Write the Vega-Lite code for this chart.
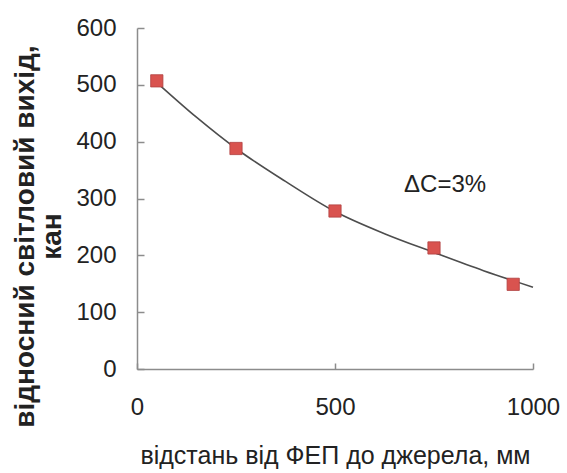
{
  "$schema": "https://vega.github.io/schema/vega-lite/v6.json",
  "autosize": "none",
  "width": 396,
  "height": 341,
  "padding": {"left": 137, "top": 28, "right": 34, "bottom": 104},
  "background": "white",
  "config": {
    "view": {"stroke": null},
    "font": "Liberation Sans"
  },
  "datasets": {
    "points": [
      {"distance": 50, "output": 507},
      {"distance": 250, "output": 388},
      {"distance": 500, "output": 278},
      {"distance": 750, "output": 213},
      {"distance": 950, "output": 149}
    ],
    "fit": [
      {"distance": 50, "output": 504},
      {"distance": 150, "output": 443},
      {"distance": 250, "output": 388},
      {"distance": 375, "output": 330},
      {"distance": 500, "output": 277},
      {"distance": 625, "output": 238},
      {"distance": 750, "output": 205},
      {"distance": 875, "output": 173},
      {"distance": 1000, "output": 144}
    ],
    "note": [
      {"distance": 778, "output": 324, "label": "ΔC=3%"}
    ]
  },
  "layer": [
    {
      "data": {"name": "fit"},
      "mark": {"type": "line", "interpolate": "monotone", "color": "#4d4d4d", "strokeWidth": 1.6},
      "encoding": {
        "x": {
          "field": "distance", "type": "quantitative",
          "scale": {"domain": [0, 1000], "nice": false},
          "axis": {
            "title": "відстань від ФЕП до джерела, мм",
            "values": [0, 500, 1000],
            "format": "d",
            "grid": false,
            "domainColor": "#8c8c8c", "domainWidth": 1.5,
            "tickColor": "#8c8c8c", "tickSize": -6, "tickWidth": 1.5,
            "labelFontSize": 24, "labelColor": "#222", "labelPadding": 32,
            "labelFlush": false,
            "titleFontSize": 25, "titleFontWeight": "normal", "titleColor": "#222",
            "titleY": 74, "titleAlign": "center", "titleBaseline": "top"
          }
        },
        "y": {
          "field": "output", "type": "quantitative",
          "scale": {"domain": [0, 600], "nice": false},
          "axis": {
            "title": ["відносний світловий вихід,", "кан"],
            "values": [0, 100, 200, 300, 400, 500, 600],
            "format": "d",
            "grid": false,
            "domainColor": "#8c8c8c", "domainWidth": 1.5,
            "tickColor": "#8c8c8c", "tickSize": -7, "tickWidth": 1.5,
            "labelFontSize": 24, "labelColor": "#222", "labelPadding": 28,
            "labelFlush": false,
            "titleFontSize": 28, "titleFontWeight": "bold", "titleColor": "#222",
            "titleLineHeight": 27,
            "titleX": -126, "titleY": 208, "titleAlign": "center", "titleBaseline": "top", "titleAngle": -90
          }
        }
      }
    },
    {
      "data": {"name": "points"},
      "mark": {"type": "square", "size": 150, "filled": true, "color": "#d9534f", "stroke": "#b04040", "strokeWidth": 0.8, "opacity": 1},
      "encoding": {
        "x": {"field": "distance", "type": "quantitative"},
        "y": {"field": "output", "type": "quantitative"}
      }
    },
    {
      "data": {"name": "note"},
      "mark": {"type": "text", "fontSize": 24, "color": "#222", "align": "center", "baseline": "middle"},
      "encoding": {
        "x": {"field": "distance", "type": "quantitative"},
        "y": {"field": "output", "type": "quantitative"},
        "text": {"field": "label"}
      }
    }
  ]
}
